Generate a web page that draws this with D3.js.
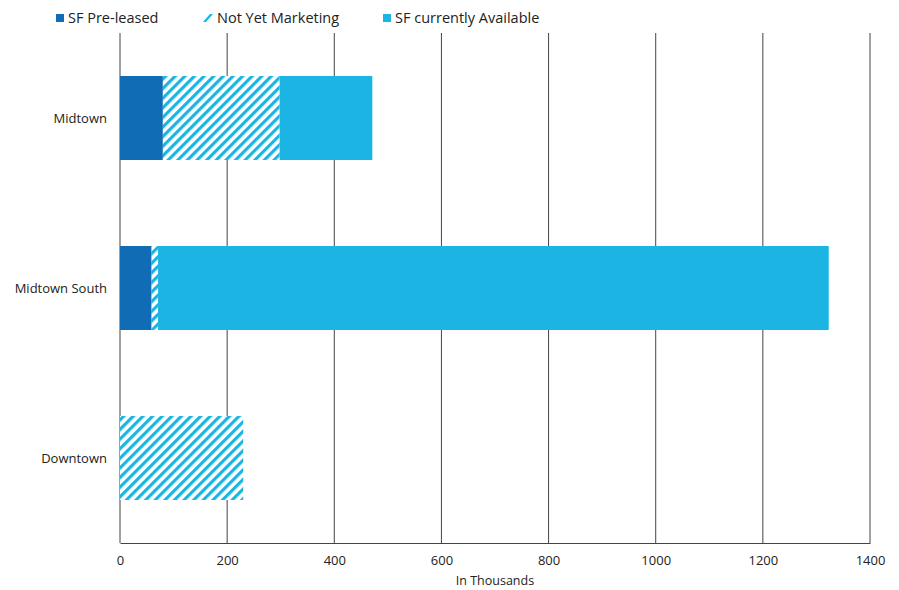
<!DOCTYPE html>
<html>
<head>
<meta charset="utf-8">
<script src="https://cdn.jsdelivr.net/npm/d3@7"></script>
<style>
  body { margin: 0; background: #fff; }
  svg text { font-family: "Open Sans", sans-serif; fill: #222; }
</style>
</head>
<body>
<svg id="chart" width="899" height="590"></svg>
<script>
const categories = ['Midtown', 'Midtown South', 'Downtown'];
const seriesNames = ['SF Pre-leased', 'Not Yet Marketing', 'SF currently Available'];
const preLeased = [80, 59, 0];
const notYetMarketing = [218, 12, 230];
const available = [173, 1252, 0];
const xTicks = [0, 200, 400, 600, 800, 1000, 1200, 1400];

const svg = d3.select('#chart');
const margin = { top: 33, right: 29, bottom: 47, left: 120 };
const width = 899 - margin.left - margin.right;
const height = 590 - margin.top - margin.bottom;

const colors = ['#106db5', 'hatch', '#1cb5e3'];

// hatch pattern for "Not Yet Marketing"
const defs = svg.append('defs');
const pat = defs.append('pattern')
    .attr('id', 'hatch')
    .attr('patternUnits', 'userSpaceOnUse')
    .attr('width', 6.8)
    .attr('height', 6.8)
    .attr('patternTransform', 'rotate(45)');
pat.append('rect').attr('width', 6.8).attr('height', 6.8).attr('fill', '#fff');
pat.append('rect').attr('x', 0).attr('width', 3.2).attr('height', 6.8).attr('fill', '#1cb5e3');

const g = svg.append('g').attr('transform', `translate(${margin.left},${margin.top})`);

const x = d3.scaleLinear().domain([0, 1400]).range([0, width]);
const y = d3.scaleBand().domain(categories).range([0, height])
    .paddingInner(0.506).paddingOuter(0.253);

// gridlines
g.append('g')
    .selectAll('line')
    .data(xTicks)
    .enter()
    .append('line')
    .attr('x1', d => x(d)).attr('x2', d => x(d))
    .attr('y1', 0).attr('y2', height)
    .style('stroke', '#444')
    .style('stroke-width', '1px');

// stacked bars
const rows = categories.map((c, i) => ({ cat: c, vals: [preLeased[i], notYetMarketing[i], available[i]] }));
rows.forEach(r => {
    let acc = 0;
    r.vals.forEach((v, si) => {
        if (v > 0) {
            g.append('rect')
                .attr('x', x(acc))
                .attr('y', y(r.cat))
                .attr('width', x(acc + v) - x(acc))
                .attr('height', y.bandwidth())
                .attr('fill', colors[si] === 'hatch' ? 'url(#hatch)' : colors[si]);
        }
        acc += v;
    });
});

// bottom axis
const xAxis = g.append('g')
    .attr('transform', `translate(0,${height})`)
    .call(d3.axisBottom(x).tickValues(xTicks).tickFormat(d3.format('d')).tickSize(0).tickPadding(13));
xAxis.select('.domain').style('stroke', '#444');
xAxis.selectAll('text').style('font-size', '13px').style('fill', '#222')
    .style('font-family', '"Open Sans", sans-serif');

// category labels
g.append('g')
    .selectAll('text')
    .data(categories)
    .enter()
    .append('text')
    .attr('x', -13)
    .attr('y', d => y(d) + y.bandwidth() / 2)
    .attr('dy', '0.35em')
    .attr('text-anchor', 'end')
    .style('font-size', '13px')
    .text(d => d);

// axis title
svg.append('text')
    .attr('x', margin.left + width / 2)
    .attr('y', 585)
    .attr('text-anchor', 'middle')
    .style('font-size', '12.5px')
    .text('In Thousands');

// legend
const legendX = [56, 203, 383];
const legend = svg.append('g');
seriesNames.forEach((name, i) => {
    const lg = legend.append('g').attr('transform', `translate(${legendX[i]},0)`);
    if (colors[i] === 'hatch') {
        lg.append('path')
            .attr('d', 'M0,22 L7,14 L10,14 L3,22 Z')
            .attr('fill', '#1cb5e3');
        lg.append('text').attr('x', 14).attr('y', 18).attr('dy', '0.35em')
            .style('font-size', '14.5px').text(name);
    } else {
        lg.append('rect').attr('x', 0).attr('y', 14).attr('width', 8).attr('height', 8)
            .attr('fill', colors[i]);
        lg.append('text').attr('x', 12).attr('y', 18).attr('dy', '0.35em')
            .style('font-size', '14.5px').text(name);
    }
});
</script>
</body>
</html>
